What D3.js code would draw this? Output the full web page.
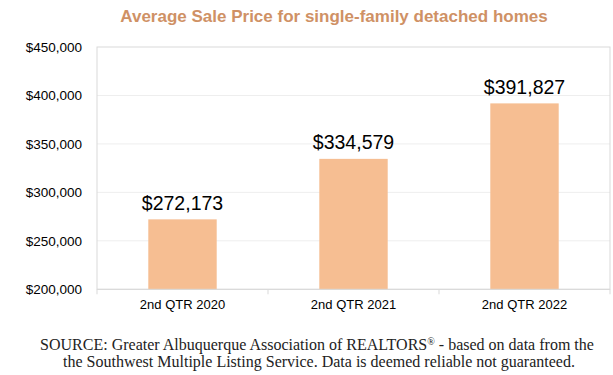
<!DOCTYPE html>
<html>
<head>
<meta charset="utf-8">
<script src="https://cdn.jsdelivr.net/npm/d3@7"></script>
<style>
  body { margin: 0; background: #fff; }
  svg { display: block; }
</style>
</head>
<body>
<script>
// quarters and average sale price
var quarters = ["2nd QTR 2020", "2nd QTR 2021", "2nd QTR 2022"];
var prices = [272173, 334579, 391827];
var yTicks = [200000, 250000, 300000, 350000, 400000, 450000];

var w = 613, h = 375;
// plot box (window.top is reserved, so use other names)
var plotLeft = 97, plotRight = 610, plotTop = 47, plotBottom = 289.3;

var svg = d3.select("body").append("svg")
  .attr("width", w)
  .attr("height", h);

// title
svg.append("text")
  .attr("x", 334)
  .attr("y", 22)
  .attr("text-anchor", "middle")
  .style("font-family", "'Liberation Sans', Arial, sans-serif")
  .style("font-weight", "bold")
  .style("font-size", "17px")
  .style("fill", "#cf9165")
  .text("Average Sale Price for single-family detached homes");

var xScale = d3.scaleBand()
  .domain(quarters)
  .range([plotLeft, plotRight])
  .paddingInner(0.6)
  .paddingOuter(0.3);

var yScale = d3.scaleLinear()
  .domain([200000, 450000])
  .range([plotBottom, plotTop]);

// gridlines
svg.append("g").selectAll("line")
  .data(yTicks.slice(1, -1))
  .enter().append("line")
  .attr("x1", plotLeft).attr("x2", plotRight)
  .attr("y1", d => yScale(d)).attr("y2", d => yScale(d))
  .style("stroke", "#eeeeee")
  .style("stroke-width", 1);

// plot border
svg.append("rect")
  .attr("x", plotLeft)
  .attr("y", plotTop)
  .attr("width", plotRight - plotLeft)
  .attr("height", plotBottom - plotTop)
  .style("fill", "none")
  .style("stroke", "#d9d9d9")
  .style("stroke-width", 1);

// y axis labels
var yAxis = d3.axisLeft(yScale)
  .tickValues(yTicks)
  .tickSize(0)
  .tickPadding(15)
  .tickFormat(d => "$" + d3.format(",")(d));
var gy = svg.append("g")
  .attr("transform", "translate(" + plotLeft + ",0)")
  .call(yAxis);
gy.select(".domain").remove();
gy.selectAll("text")
  .style("font-family", "'Liberation Sans', Arial, sans-serif")
  .style("font-size", "13.5px")
  .style("fill", "#000");

// bars
svg.selectAll("rect.bar")
  .data(prices)
  .enter().append("rect")
  .attr("class", "bar")
  .attr("x", (d, i) => xScale(quarters[i]))
  .attr("y", d => yScale(d))
  .attr("width", xScale.bandwidth())
  .attr("height", d => plotBottom - yScale(d))
  .style("fill", "#f6be92");

// value labels
svg.selectAll("text.val")
  .data(prices)
  .enter().append("text")
  .attr("class", "val")
  .attr("x", (d, i) => xScale(quarters[i]) + xScale.bandwidth() / 2)
  .attr("y", d => yScale(d) - 9.5)
  .attr("text-anchor", "middle")
  .style("font-family", "'Liberation Sans', Arial, sans-serif")
  .style("font-size", "19.5px")
  .style("fill", "#000")
  .text(d => "$" + d3.format(",")(d));

// x axis
svg.append("line")
  .attr("x1", plotLeft).attr("x2", plotRight)
  .attr("y1", plotBottom).attr("y2", plotBottom)
  .style("stroke", "#d9d9d9");
var step = xScale.step();
svg.append("g").selectAll("line")
  .data([0, 1, 2, 3])
  .enter().append("line")
  .attr("x1", d => plotLeft + d * step).attr("x2", d => plotLeft + d * step)
  .attr("y1", plotBottom).attr("y2", plotBottom + 5)
  .style("stroke", "#d9d9d9");
svg.append("g").selectAll("text")
  .data(quarters)
  .enter().append("text")
  .attr("x", d => xScale(d) + xScale.bandwidth() / 2)
  .attr("y", 308.5)
  .attr("text-anchor", "middle")
  .style("font-family", "'Liberation Sans', Arial, sans-serif")
  .style("font-size", "13px")
  .style("fill", "#000")
  .text(d => d);

// source note
var note = svg.append("g")
  .style("font-family", "'Liberation Serif', 'Times New Roman', serif")
  .style("font-size", "16px")
  .style("fill", "#222");
var l1 = note.append("text")
  .attr("x", 317).attr("y", 350)
  .attr("text-anchor", "middle");
l1.append("tspan").text("SOURCE: Greater Albuquerque Association of REALTORS");
l1.append("tspan").attr("dy", -5).style("font-size", "10px").text("®");
l1.append("tspan").attr("dy", 5).text(" - based on data from the");
note.append("text")
  .attr("x", 319).attr("y", 367)
  .attr("text-anchor", "middle")
  .text("the Southwest Multiple Listing Service. Data is deemed reliable not guaranteed.");
</script>
</body>
</html>
